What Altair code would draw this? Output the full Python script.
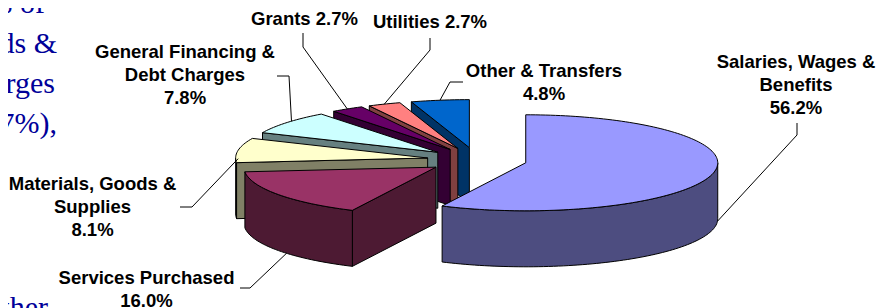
import numpy as np
import pandas as pd
import altair as alt

# ---------------- data ----------------
categories = ["Salaries, Wages & Benefits", "Services Purchased", "Materials, Goods & Supplies",
              "General Financing & Debt Charges", "Grants", "Utilities", "Other & Transfers"]
values = [56.2, 16.0, 8.1, 7.8, 2.7, 2.7, 4.8]
label_names = ["Salaries, Wages &\nBenefits", "Services Purchased", "Materials, Goods &\nSupplies",
               "General Financing &\nDebt Charges", "Grants", "Utilities", "Other & Transfers"]
label_sep = ["\n", "\n", "\n", "\n", " ", " ", "\n"]
top_colors = ["#9999FF", "#993366", "#FFFFCC", "#CCFFFF", "#660066", "#FF8080", "#0066CC"]
side_colors = ["#4D4D80", "#4D1A33", "#808066", "#668080", "#330033", "#804040", "#003366"]
side_text = ["% of", "ds &", "arges", "7%),", "ther"]

# ---------------- layout ----------------
W, H = 875, 300
OX, OY = 8, 8
CX, CY = 477, 160
RX, RY = 192, 48
DEPTH = 56
EXPLODE = 50
label_xy = [(796, 68), (146.5, 284), (92.5, 190), (185, 58), (304.5, 25), (430, 28), (544, 77)]
leader_start = [(797, 123), (240, 288), (180, 207), (277, 76), (303, 33), (430, 38), (463, 82)]
leader_elbow = [(797, 135), (250, 288), (192, 207), (289, 76), (303, 47), (430, 50), (450, 82)]
leader_dtheta = [-10, -4, 0, 2, 0, 0, 0]
leader_depth = [1, 1, 0.15, 0, 0, 0, 0]
side_xy = [(45, 13), (57, 53), (55, 93), (57, 133), (48, 317)]

# ---------------- geometry built from values ----------------
vals = np.array(values, dtype=float)
ang = np.concatenate([[0.0], np.cumsum(vals) / vals.sum() * 360.0])


def rim(ax, ay, th, dz=0.0):
    t = np.radians(th)
    return ax + RX * np.sin(t), ay - RY * np.cos(t) + dz


rows = []
apexes = []
bis = []
for i in range(len(values)):
    a0, a1 = ang[i], ang[i + 1]
    b = (a0 + a1) / 2
    bis.append(b)
    rb = np.radians(b)
    ax = CX + EXPLODE * np.sin(rb)
    ay = CY - EXPLODE * RY / RX * np.cos(rb)
    apexes.append((ax, ay))
    polys = []
    if np.sin(np.radians(a0)) < -1e-6:
        p = rim(ax, ay, a0)
        polys.append(("side", [(ax, ay), p, (p[0], p[1] + DEPTH), (ax, ay + DEPTH)]))
    if np.sin(np.radians(a1)) > 1e-6:
        p = rim(ax, ay, a1)
        polys.append(("side", [(ax, ay), p, (p[0], p[1] + DEPTH), (ax, ay + DEPTH)]))
    lo, hi = max(a0, 90.0), min(a1, 270.0)
    if hi > lo:
        n = max(2, int((hi - lo) / 1.5) + 2)
        ths = np.linspace(lo, hi, n)
        pts = [rim(ax, ay, t) for t in ths] + [rim(ax, ay, t, DEPTH) for t in ths[::-1]]
        polys.append(("side", pts))
    n = max(2, int((a1 - a0) / 1.5) + 2)
    ths = np.linspace(a0, a1, n)
    polys.append(("top", [(ax, ay)] + [rim(ax, ay, t) for t in ths]))
    for k, (kind, pts) in enumerate(polys):
        col = top_colors[i] if kind == "top" else side_colors[i]
        for j, (x, y) in enumerate(pts):
            rows.append({"s": i, "pid": f"{i}_{k}", "k": j, "x": x, "y": y, "fill": col})
poly_df = pd.DataFrame(rows)

lab_rows = []
lead_rows = []
for i in range(len(values)):
    lab_rows.append({"x": label_xy[i][0], "y": label_xy[i][1],
                     "t": f"{label_names[i]}{label_sep[i]}{values[i]:.1f}%"})
    ax, ay = apexes[i]
    ex, ey = rim(ax, ay, bis[i] + leader_dtheta[i], leader_depth[i] * DEPTH)
    for j, (x, y) in enumerate([leader_start[i], leader_elbow[i], (ex, ey)]):
        lead_rows.append({"l": i, "k": j, "x": x, "y": y})
lab_df = pd.DataFrame(lab_rows)
lead_df = pd.DataFrame(lead_rows)
side_df = pd.DataFrame({"x": [p[0] for p in side_xy], "y": [p[1] for p in side_xy], "t": side_text})

xs = alt.X("x:Q", scale=alt.Scale(domain=[OX, OX + W], nice=False, zero=False), axis=None)
ys = alt.Y("y:Q", scale=alt.Scale(domain=[OY, OY + H], nice=False, zero=False, reverse=True), axis=None)

order = sorted(range(len(values)), key=lambda i: -np.cos(np.radians(bis[i])))
layers = []
for i in order:
    layers.append(
        alt.Chart(poly_df).transform_filter(alt.datum.s == i)
        .mark_line(interpolate="linear-closed", stroke="black", strokeWidth=1, strokeJoin="round")
        .encode(x=xs, y=ys, order="k:Q", detail="pid:N", fill=alt.Fill("fill:N", scale=None))
    )

leaders = alt.Chart(lead_df).mark_line(stroke="black", strokeWidth=1).encode(
    x=xs, y=ys, order="k:Q", detail="l:N")
labels = alt.Chart(lab_df).mark_text(
    font="Liberation Sans", fontWeight="bold", fontSize=18.5, lineHeight=23,
    align="center", baseline="alphabetic", lineBreak="\n", color="black").encode(x=xs, y=ys, text="t:N")
side = alt.Chart(side_df).mark_text(
    font="Liberation Serif", fontSize=30, align="right", baseline="alphabetic",
    color="#000099").encode(x=xs, y=ys, text="t:N")

chart = alt.layer(*layers, leaders, labels, side).properties(
    width=W, height=H, autosize=alt.AutoSizeParams(type="none"), padding=0
).configure_view(stroke=None)

chart.save("out.html", embed_options={"renderer": "svg", "actions": False})
